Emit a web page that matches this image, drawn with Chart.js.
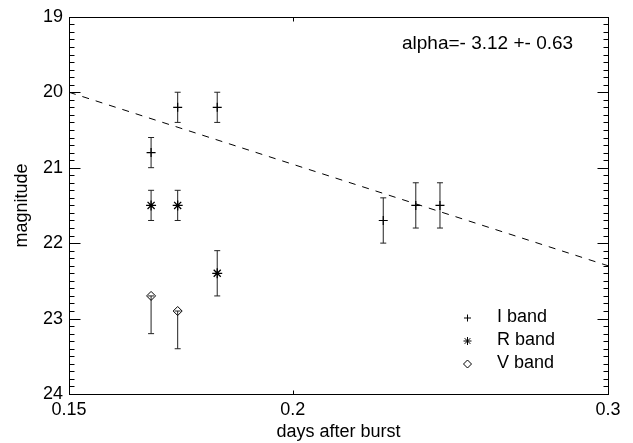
<!DOCTYPE html>
<html>
<head>
<meta charset="utf-8">
<script src="https://cdn.jsdelivr.net/npm/chart.js@4.4.0/dist/chart.umd.min.js"></script>
<style>
  html, body { margin: 0; padding: 0; background: #fff; }
</style>
</head>
<body>
<canvas id="lc" width="633" height="443"></canvas>
<script>
// afterglow light curve: days after burst vs magnitude
const iDays = [0.1667, 0.1725, 0.1815, 0.2247, 0.2343, 0.2417];
const iMag  = [20.8, 20.2, 20.2, 21.7, 21.5, 21.5];
const iErr  = [0.2, 0.2, 0.2, 0.3, 0.3, 0.3];

const rDays = [0.1667, 0.1725, 0.1815];
const rMag  = [21.5, 21.5, 22.4];
const rErr  = [0.2, 0.2, 0.3];

const vDays = [0.1667, 0.1725];
const vMag  = [22.7, 22.9];
const vErrBright = [0, 0];     // only the faint side has a bar
const vErrFaint  = [0.5, 0.5];

// power law fit, end points
const fitDays = [0.15, 0.3];
const fitMag  = [20.0, 22.3];
const fitText = 'alpha=- 3.12 +- 0.63';

const xTicks = [0.15, 0.2, 0.3];
const yTicks = [19, 20, 21, 22, 23, 24];

const FONT = "'Liberation Sans', Arial, Helvetica, sans-serif";

function pts(xs, ys) {
    return xs.map((x, i) => ({ x: x, y: ys[i] }));
}

// vertical error bars with small caps, drawn under the markers
const errorBars = {
    id: 'errorBars',
    beforeDatasetsDraw(chart) {
        const ctx = chart.ctx;
        const xs = chart.scales.x, ys = chart.scales.y;
        ctx.save();
        ctx.strokeStyle = '#222';
        ctx.lineWidth = 1;
        chart.data.datasets.forEach(ds => {
            if (!ds.errFaint) return;
            ds.data.forEach((p, i) => {
                const px = xs.getPixelForValue(p.x);
                const top = ys.getPixelForValue(p.y - ds.errBright[i]);
                const bot = ys.getPixelForValue(p.y + ds.errFaint[i]);
                ctx.beginPath();
                ctx.moveTo(px, top); ctx.lineTo(px, bot);
                ctx.moveTo(px - 3, top); ctx.lineTo(px + 3, top);
                ctx.moveTo(px - 3, bot); ctx.lineTo(px + 3, bot);
                ctx.stroke();
            });
        });
        ctx.restore();
    }
};

// box frame with inward ticks, legend and fit label
const frame = {
    id: 'frame',
    afterDraw(chart) {
        const ctx = chart.ctx;
        const a = chart.chartArea;
        const x = chart.scales.x, y = chart.scales.y;
        const L = Math.round(a.left) + 0.5, R = Math.round(a.right) + 0.5;
        const T = Math.round(a.top) + 0.5, B = Math.round(a.bottom) + 0.5;
        ctx.save();
        ctx.strokeStyle = '#000';
        ctx.lineWidth = 1;
        ctx.strokeRect(L, T, R - L, B - T);

        ctx.beginPath();
        const steps = Math.round((y.max - y.min) * 10);
        for (let k = 0; k <= steps; k++) {
            const m = y.min + k / 10;
            const py = Math.round(y.getPixelForValue(m)) + 0.5;
            const len = k % 10 === 0 ? 11 : 5;
            ctx.moveTo(L, py); ctx.lineTo(L + len, py);
            ctx.moveTo(R, py); ctx.lineTo(R - len, py);
        }
        xTicks.forEach(v => {
            const px = Math.round(x.getPixelForValue(v)) + 0.5;
            ctx.moveTo(px, B); ctx.lineTo(px, B - 4);
            ctx.moveTo(px, T); ctx.lineTo(px, T + 4);
        });
        ctx.stroke();

        // legend
        ctx.font = '18px ' + FONT;
        ctx.fillStyle = '#000';
        ctx.textBaseline = 'middle';
        ctx.textAlign = 'left';
        const rows = chart.data.datasets.filter(ds => ds.errFaint);
        rows.forEach((ds, i) => {
            const ry = 318 + i * 23;
            ctx.strokeStyle = '#000';
            ctx.fillStyle = 'rgba(0,0,0,0)';
            Chart.helpers.drawPoint(ctx, {
                pointStyle: ds.pointStyle,
                radius: ds.legendRadius,
                borderWidth: 1,
                rotation: 0
            }, 467.5, ry);
            ctx.fillStyle = '#000';
            ctx.fillText(ds.label, 497, ry - 1);
        });

        ctx.font = '19px ' + FONT;
        ctx.fillText(fitText, 402, 44);
        ctx.restore();
    }
};

new Chart(document.getElementById('lc'), {
    type: 'scatter',
    data: {
        datasets: [
            {
                label: 'I band',
                data: pts(iDays, iMag),
                errBright: iErr,
                errFaint: iErr,
                pointStyle: 'cross',
                pointRadius: 4.5,
                legendRadius: 3.5,
                borderColor: '#000',
                borderWidth: 1.2
            },
            {
                label: 'R band',
                data: pts(rDays, rMag),
                errBright: rErr,
                errFaint: rErr,
                pointStyle: 'star',
                pointRadius: 5,
                legendRadius: 4,
                borderColor: '#000',
                borderWidth: 1.3
            },
            {
                label: 'V band',
                data: pts(vDays, vMag),
                errBright: vErrBright,
                errFaint: vErrFaint,
                pointStyle: 'rectRot',
                pointRadius: 4.5,
                legendRadius: 4,
                borderColor: '#000',
                backgroundColor: 'rgba(0,0,0,0)',
                borderWidth: 1
            },
            {
                type: 'line',
                label: 'fit',
                data: pts(fitDays, fitMag),
                borderColor: '#000',
                borderWidth: 1,
                borderDash: [7, 7],
                pointRadius: 0,
                fill: false
            }
        ]
    },
    options: {
        responsive: false,
        animation: false,
        layout: { padding: { top: 12, right: 25, left: 0, bottom: 0 } },
        plugins: {
            legend: { display: false },
            tooltip: { enabled: false }
        },
        scales: {
            x: {
                type: 'logarithmic',
                min: 0.15,
                max: 0.3,
                bounds: 'data',
                afterBuildTicks: s => { s.ticks = xTicks.map(v => ({ value: v })); },
                afterFit: s => { s.height = 49; },
                grid: { display: false, drawTicks: false },
                border: { display: false },
                ticks: {
                    autoSkip: false,
                    maxRotation: 0,
                    padding: 5,
                    color: '#000',
                    font: { family: FONT, size: 18 },
                    callback: v => String(+v)
                },
                title: {
                    display: true,
                    text: 'days after burst',
                    color: '#000',
                    font: { family: FONT, size: 18 },
                    padding: { top: 0, bottom: 0 }
                }
            },
            y: {
                type: 'linear',
                reverse: true,
                min: 19,
                max: 24,
                bounds: 'data',
                afterBuildTicks: s => { s.ticks = yTicks.map(v => ({ value: v })); },
                afterFit: s => { s.width = 69; },
                grid: { display: false, drawTicks: false },
                border: { display: false },
                ticks: {
                    padding: 6,
                    color: '#000',
                    font: { family: FONT, size: 18 },
                    callback: v => String(v)
                },
                title: {
                    display: true,
                    text: 'magnitude',
                    color: '#000',
                    font: { family: FONT, size: 18 },
                    padding: { top: 11, bottom: 0 }
                }
            }
        }
    },
    plugins: [errorBars, frame]
});
</script>
</body>
</html>
